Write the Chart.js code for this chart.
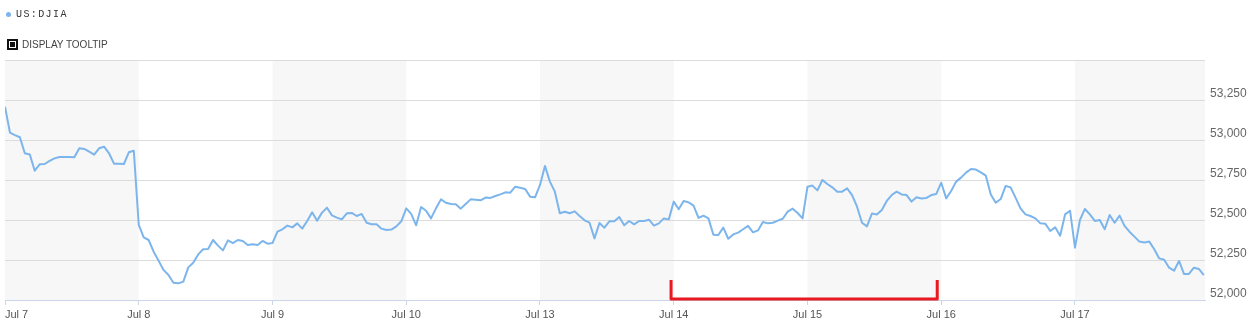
<!DOCTYPE html>
<html>
<head>
<meta charset="utf-8">
<script src="https://cdn.jsdelivr.net/npm/chart.js@4/dist/chart.umd.min.js"></script>
<style>
  html, body { margin: 0; padding: 0; background: #fff; }
  #wrap { position: relative; width: 1248px; height: 333px; }
  #chart { position: absolute; left: 0; top: 0; }
  .series { position: absolute; left: 6px; top: 9px; font: 10px "Liberation Mono", monospace; letter-spacing: 1.4px; color: #333; line-height: 12px; }
  .series .dot { position: absolute; left: 0; top: 3px; width: 5px; height: 5px; border-radius: 50%; background: #7cb5ec; }
  .series span.txt { margin-left: 10px; }
  .tip { position: absolute; left: 7px; top: 39px; font: 10px "Liberation Sans", Arial, sans-serif; color: #444; line-height: 11px; }
  .tip .box { display: inline-block; vertical-align: top; width: 5px; height: 5px; border: 2px solid #111; padding: 1px; margin-right: 4px; }
  .tip .box i { display: block; width: 5px; height: 5px; background: #111; }
</style>
</head>
<body>
<div id="wrap">
  <canvas id="chart" width="1248" height="333"></canvas>
  <div class="series"><span class="dot"></span><span class="txt">US:DJIA</span></div>
  <div class="tip"><span class="box"><i></i></span>DISPLAY TOOLTIP</div>
</div>
<script>
// day labels (trading days only)
const dayLabels = ["Jul 7", "Jul 8", "Jul 9", "Jul 10", "Jul 13", "Jul 14", "Jul 15", "Jul 16", "Jul 17"];

// intraday values per day
const jul7 = [53208, 53046, 53031, 53017, 52917, 52910, 52808, 52848, 52850, 52869, 52885, 52894, 52894, 52894,
  52892, 52948, 52944, 52927, 52908, 52948, 52958, 52917, 52852, 52852, 52850, 52923, 52933];
const jul8 = [52469, 52392, 52375, 52302, 52246, 52188, 52156, 52108, 52104, 52115, 52204, 52233, 52285, 52317,
  52319, 52375, 52340, 52310, 52373, 52356, 52375, 52369, 52344, 52348, 52344, 52369, 52352];
const jul9 = [52356, 52427, 52442, 52465, 52454, 52479, 52446, 52494, 52548, 52496, 52546, 52577, 52529, 52515,
  52504, 52542, 52544, 52525, 52538, 52483, 52473, 52473, 52446, 52438, 52440, 52460, 52492];
const jul10 = [52573, 52538, 52467, 52581, 52558, 52510, 52573, 52629, 52608, 52600, 52598, 52571, 52600, 52629,
  52627, 52623, 52640, 52638, 52650, 52660, 52673, 52671, 52708, 52702, 52694, 52646, 52642];
const jul13 = [52719, 52838, 52740, 52677, 52542, 52552, 52542, 52554, 52525, 52498, 52483, 52385, 52481, 52452,
  52492, 52492, 52519, 52467, 52494, 52473, 52494, 52494, 52502, 52465, 52479, 52510, 52504];
const jul14 = [52615, 52567, 52619, 52610, 52590, 52513, 52527, 52510, 52408, 52406, 52452, 52383, 52410, 52421,
  52442, 52463, 52423, 52435, 52488, 52479, 52483, 52496, 52508, 52552, 52571, 52544, 52510];
const jul15 = [52708, 52715, 52685, 52750, 52725, 52704, 52677, 52677, 52698, 52656, 52583, 52483, 52460, 52540,
  52535, 52563, 52619, 52656, 52677, 52660, 52656, 52615, 52642, 52635, 52638, 52656, 52663];
const jul16 = [52733, 52635, 52681, 52740, 52765, 52796, 52819, 52815, 52798, 52777, 52660, 52608, 52631, 52713,
  52704, 52640, 52573, 52535, 52525, 52510, 52479, 52477, 52431, 52454, 52402, 52535, 52558];
const jul17 = [52327, 52500, 52569, 52535, 52494, 52500, 52442, 52531, 52483, 52527, 52463, 52427, 52396, 52365,
  52360, 52365, 52317, 52260, 52252, 52202, 52183, 52244, 52163, 52163, 52202, 52194, 52156];

const days = [jul7, jul8, jul9, jul10, jul13, jul14, jul15, jul16, jul17];
const yTicks = [52000, 52250, 52500, 52750, 53000, 53250, 53500];
const xMax = 8.972; // axis ends just after the last Jul 17 point

// red hand-drawn bracket under Jul 14 - Jul 16 (day index, value)
const bracketX = [4.98, 6.97];
const bracketY = [52125, 52006];

const points = [];
days.forEach((vals, d) => {
  vals.forEach((v, j) => {
    points.push({ x: d + j / vals.length, y: v });
  });
});

// alternating day bands
const bandsPlugin = {
  id: "bands",
  beforeDraw(chart) {
    const { ctx, chartArea, scales } = chart;
    ctx.save();
    ctx.fillStyle = "#f7f7f7";
    for (let i = 0; i < dayLabels.length; i += 2) {
      const x0 = scales.x.getPixelForValue(i);
      const x1 = Math.min(scales.x.getPixelForValue(i + 1), chartArea.right);
      ctx.fillRect(x0, chartArea.top, x1 - x0, chartArea.bottom - chartArea.top);
    }
    ctx.restore();
  }
};

const bracketPlugin = {
  id: "bracket",
  afterDatasetsDraw(chart) {
    const { ctx, scales } = chart;
    const xa = scales.x.getPixelForValue(bracketX[0]);
    const xb = scales.x.getPixelForValue(bracketX[1]);
    const yt = scales.y.getPixelForValue(bracketY[0]);
    const yb = scales.y.getPixelForValue(bracketY[1]);
    ctx.save();
    ctx.strokeStyle = "#e8191f";
    ctx.lineWidth = 3;
    ctx.lineJoin = "round";
    ctx.beginPath();
    ctx.moveTo(xa, yt);
    ctx.lineTo(xa, yb);
    ctx.lineTo(xb, yb);
    ctx.lineTo(xb, yt);
    ctx.stroke();
    ctx.restore();
  }
};

new Chart(document.getElementById("chart"), {
  type: "line",
  data: {
    datasets: [{
      label: "US:DJIA",
      data: points,
      borderColor: "#7cb5ec",
      borderWidth: 2,
      pointRadius: 0,
      tension: 0,
      borderJoinStyle: "round"
    }]
  },
  options: {
    responsive: false,
    animation: false,
    events: [],
    layout: { padding: { left: 5, top: 60, right: 0, bottom: 0 } },
    plugins: { legend: { display: false }, tooltip: { enabled: false } },
    scales: {
      x: {
        type: "linear",
        min: 0,
        max: xMax,
        afterBuildTicks: s => { s.ticks = dayLabels.map((_, i) => ({ value: i })).concat([{ value: xMax }]); },
        afterFit: s => { s.height = 33; },
        grid: {
          drawOnChartArea: false,
          tickLength: 5,
          color: ctx => ctx.index < dayLabels.length ? "#ccd6eb" : "rgba(0,0,0,0)"
        },
        border: { color: "#ccd6eb" },
        ticks: {
          autoSkip: false,
          maxRotation: 0,
          align: "inner",
          padding: 3,
          color: "#555",
          font: { family: "'Liberation Sans', Arial, sans-serif", size: 11 },
          callback: v => Number.isInteger(v) ? (dayLabels[v] || "") : ""
        }
      },
      y: {
        position: "right",
        min: yTicks[0],
        max: yTicks[yTicks.length - 1],
        afterBuildTicks: s => { s.ticks = yTicks.map(v => ({ value: v })); },
        afterFit: s => { s.width = 43; },
        grid: { color: "#dcdcdc", drawTicks: false },
        border: { display: false },
        ticks: {
          padding: 5,
          labelOffset: -6,
          color: "#666",
          font: { family: "'Liberation Sans', Arial, sans-serif", size: 12 },
          callback: v => v === 53500 ? "" : v.toLocaleString("en-US")
        }
      }
    }
  },
  plugins: [bandsPlugin, bracketPlugin]
});
</script>
</body>
</html>
